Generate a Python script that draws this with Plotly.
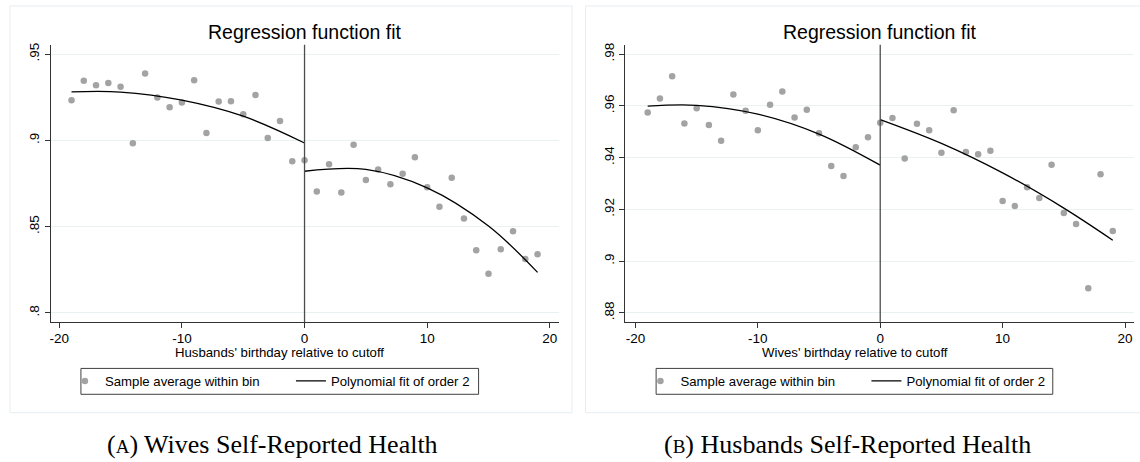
import plotly.graph_objects as go

# ---------------- data ----------------
bins = [-19, -18, -17, -16, -15, -14, -13, -12, -11, -10, -9, -8, -7, -6, -5, -4, -3, -2, -1,
        0, 1, 2, 3, 4, 5, 6, 7, 8, 9, 10, 11, 12, 13, 14, 15, 16, 17, 18, 19]

wives_health = [0.9233, 0.9346, 0.9319, 0.9333, 0.9310, 0.8983, 0.9388, 0.9248, 0.9192, 0.9219,
                0.9348, 0.9042, 0.9225, 0.9227, 0.9152, 0.9263, 0.9013, 0.9112, 0.8879,
                0.8885, 0.8704, 0.8862, 0.8698, 0.8975, 0.8771, 0.8831, 0.8746, 0.8806, 0.8902,
                0.8729, 0.8615, 0.8783, 0.8548, 0.8363, 0.8227, 0.8369, 0.8473, 0.8312, 0.8340]

husbands_health = [0.9574, 0.9628, 0.9714, 0.9532, 0.9591, 0.9526, 0.9465, 0.9644, 0.9581, 0.9506,
                   0.9604, 0.9655, 0.9555, 0.9585, 0.9494, 0.9368, 0.9329, 0.9440, 0.9479,
                   0.9535, 0.9553, 0.9397, 0.9531, 0.9506, 0.9419, 0.9583, 0.9422, 0.9413, 0.9427,
                   0.9232, 0.9213, 0.9286, 0.9244, 0.9372, 0.9186, 0.9144, 0.8895, 0.9336, 0.9117]

fit_x_left = [-19, -15, -10, -5, 0]
fit_x_right = [0, 5, 10, 15, 19]
wives_fit_left = [0.9281, 0.9280, 0.9233, 0.9140, 0.8985]
wives_fit_right = [0.8821, 0.8832, 0.8725, 0.8504, 0.8235]
husbands_fit_left = [0.9599, 0.9602, 0.9568, 0.9491, 0.9371]
husbands_fit_right = [0.9547, 0.9455, 0.9341, 0.9205, 0.9081]

x_ticks = [-20, -10, 0, 10, 20]
x_ticktext = ["-20", "-10", "0", "10", "20"]
wives_yticks = [0.80, 0.85, 0.90, 0.95]
wives_yticktext = [".8", ".85", ".9", ".95"]
husbands_yticks = [0.88, 0.90, 0.92, 0.94, 0.96, 0.98]
husbands_yticktext = [".88", ".9", ".92", ".94", ".96", ".98"]

panel_title = "Regression function fit"
xtitle_a = "Husbands' birthday relative to cutoff"
xtitle_b = "Wives' birthday relative to cutoff"
legend_scatter = "Sample average within bin"
legend_fit = "Polynomial fit of order 2"
caption_a = "(<span style='font-size:19px'>A</span>) Wives Self-Reported Health"
caption_b = "(<span style='font-size:19px'>B</span>) Husbands Self-Reported Health"

# ---------------- layout helpers ----------------
W, H = 1140, 462
def px(x):
    return x / W
def py(y):
    return 1 - y / H

SANS = "Liberation Sans, Arial, sans-serif"
SERIF = "Liberation Serif, Times New Roman, serif"
DOT = "#a3a3a3"
AX = "#333333"
GRID = "#e9f1f3"

fig = go.Figure()

def add_panel(vals, fl, fr, xa, ya, leg):
    fig.add_trace(go.Scatter(
        x=bins, y=vals, mode="markers", name=legend_scatter,
        marker=dict(color=DOT, size=6.5), xaxis=xa, yaxis=ya,
        legend=leg, legendwidth=181, hoverinfo="x+y"))
    fig.add_trace(go.Scatter(
        x=fit_x_left, y=fl, mode="lines", name=legend_fit,
        line=dict(color="black", width=1.3, shape="spline"),
        xaxis=xa, yaxis=ya, legend=leg, showlegend=True))
    fig.add_trace(go.Scatter(
        x=fit_x_right, y=fr, mode="lines", name=legend_fit,
        line=dict(color="black", width=1.3, shape="spline"),
        xaxis=xa, yaxis=ya, legend=leg, showlegend=False))

add_panel(wives_health, wives_fit_left, wives_fit_right, "x", "y", "legend")
add_panel(husbands_health, husbands_fit_left, husbands_fit_right, "x2", "y2", "legend2")

ydom = [py(321.7), py(43)]
common_x = dict(showgrid=False, zeroline=False, showline=True, linecolor=AX, linewidth=1.2,
                ticks="outside", ticklen=5, tickcolor=AX, tickwidth=1, ticklabelstandoff=-2,
                tickvals=x_ticks, ticktext=x_ticktext,
                tickfont=dict(family=SANS, size=13.5, color="black"))
common_y = dict(showgrid=True, gridcolor=GRID, gridwidth=1, zeroline=False, showline=True,
                linecolor=AX, linewidth=1.2, ticks="outside", ticklen=5, tickcolor=AX,
                tickwidth=1, tickangle=-90,
                tickfont=dict(family=SANS, size=13.5, color="black"))

fig.update_layout(
    width=W, height=H, margin=dict(l=0, r=0, t=0, b=0),
    paper_bgcolor="white", plot_bgcolor="white",
    xaxis=dict(domain=[px(50), px(558.3)], range=[-20.676, 20.733], anchor="y", **common_x),
    yaxis=dict(domain=ydom, range=[0.79458, 0.95537], anchor="x",
               tickvals=wives_yticks, ticktext=wives_yticktext, **common_y),
    xaxis2=dict(domain=[px(625), px(1133.5)], range=[-20.816, 20.694], anchor="y2", **common_x),
    yaxis2=dict(domain=ydom, range=[0.87638, 0.98358], anchor="x2",
                tickvals=husbands_yticks, ticktext=husbands_yticktext, **common_y),
    legend=dict(orientation="h", x=px(64), xanchor="left", y=py(381), yanchor="middle",
                bgcolor="rgba(0,0,0,0)", borderwidth=0, itemwidth=30,
                font=dict(family=SANS, size=13.2, color="black")),
    legend2=dict(orientation="h", x=px(640), xanchor="left", y=py(381), yanchor="middle",
                 bgcolor="rgba(0,0,0,0)", borderwidth=0, itemwidth=30,
                 font=dict(family=SANS, size=13.2, color="black")),
    showlegend=True,
)

shapes = []
# graph-region borders (very faint)
shapes.append(dict(type="rect", xref="paper", yref="paper", x0=px(9), x1=px(571.5), y0=py(412.5), y1=py(4),
                   line=dict(color="#e6eef1", width=1), layer="below"))
shapes.append(dict(type="rect", xref="paper", yref="paper", x0=px(585), x1=px(1145), y0=py(412.5), y1=py(4),
                   line=dict(color="#e6eef1", width=1), layer="below"))
# legend boxes
shapes.append(dict(type="rect", xref="paper", yref="paper", x0=px(80), x1=px(478), y0=py(394), y1=py(368),
                   line=dict(color="#404040", width=1)))
shapes.append(dict(type="rect", xref="paper", yref="paper", x0=px(655.7), x1=px(1052.7), y0=py(394), y1=py(368),
                   line=dict(color="#404040", width=1)))
# cutoff lines
for xr, yr in (("x", "y domain"), ("x2", "y2 domain")):
    shapes.append(dict(type="line", xref=xr, yref=yr, x0=0, x1=0, y0=0, y1=1,
                       line=dict(color="#4d4d4d", width=1.3)))
fig.update_layout(shapes=shapes)

ann = []
for cx, txt in ((304, panel_title), (880, panel_title)):
    ann.append(dict(text=txt, x=px(cx), y=py(30), xref="paper", yref="paper", showarrow=False,
                    xanchor="center", yanchor="middle", font=dict(family=SANS, size=19.5, color="black")))
for cx, txt in ((279, xtitle_a), (855, xtitle_b)):
    ann.append(dict(text=txt, x=px(cx), y=py(352.5), xref="paper", yref="paper", showarrow=False,
                    xanchor="center", yanchor="middle", font=dict(family=SANS, size=13.2, color="black")))
for cx, txt in ((272, caption_a), (847, caption_b)):
    ann.append(dict(text=txt, x=px(cx), y=py(444), xref="paper", yref="paper", showarrow=False,
                    xanchor="center", yanchor="middle", font=dict(family=SERIF, size=26, color="black")))
fig.update_layout(annotations=ann)

fig.write_html(
    "out.html",
    config={"displayModeBar": False},
    post_script="document.body.style.margin='0';document.body.style.padding='0';"
                "document.documentElement.style.overflow='hidden';",
)
